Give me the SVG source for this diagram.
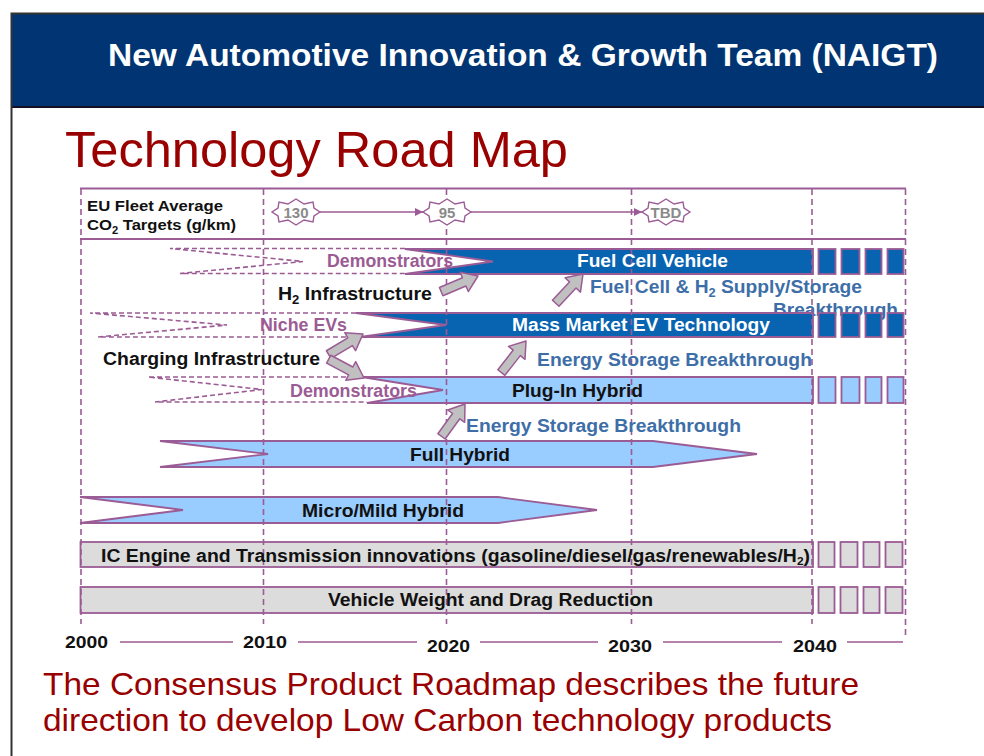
<svg xmlns="http://www.w3.org/2000/svg" width="984" height="756" viewBox="0 0 984 756">
  <style>
    text { font-family: "Liberation Sans", Arial, sans-serif; }
    .hdr { fill: #ffffff; font-size: 32px; font-weight: bold; }
    .title { fill: #990000; font-size: 50px; }
    .foot { fill: #990000; font-size: 32px; }
    .lbl { fill: #111111; font-size: 15px; font-weight: bold; }
    .tgt { fill: #8a8a8a; font-size: 15px; font-weight: bold; text-anchor: middle; }
    .demo { fill: #9b5b94; font-size: 18px; font-weight: bold; }
    .wht { fill: #ffffff; font-size: 18px; font-weight: bold; }
    .blk { fill: #111111; font-size: 18px; font-weight: bold; }
    .brk { fill: #3d6ea8; font-size: 18px; font-weight: bold; }
    .yr { fill: #111111; font-size: 17px; font-weight: bold; }
    .grid { stroke: #9b5b94; stroke-width: 1.6; stroke-dasharray: 6 4; fill: none; }
    .rule { stroke: #9b5b94; stroke-width: 2.2; fill: none; }
    .axis { stroke: #9b5b94; stroke-width: 1.3; fill: none; }
    .tail { stroke: #9b5b94; stroke-width: 1.6; stroke-dasharray: 5 3; fill: none; }
    .dark { fill: #0864b1; stroke: #9b5b94; stroke-width: 1.8; }
    .light { fill: #99ccff; stroke: #9b5b94; stroke-width: 1.8; }
    .grey { fill: #dcdcdc; stroke: #9b5b94; stroke-width: 1.8; }
    .seal { fill: #ffffff; stroke: #9b5b94; stroke-width: 1.4; }
    .link { stroke: #9b5b94; stroke-width: 1.4; fill: none; marker-end: url(#tip); }
    .push { fill: #c0c0c0; stroke: #9b5b94; stroke-width: 1.5; stroke-linejoin: round; }
  </style>
  <defs>
    <marker id="tip" viewBox="0 0 10 10" refX="10" refY="5" markerWidth="8" markerHeight="8" markerUnits="userSpaceOnUse" orient="auto">
      <path d="M0,0 L10,5 L0,10 Z" fill="#9b5b94"/>
    </marker>
    <!-- eight-pointed seal used for the CO2 target values -->
    <path id="sealShape" d="M24,0 L18,-4 L17,-10 L8,-8 L0,-13 L-8,-8 L-17,-10 L-18,-4 L-24,0 L-18,4 L-17,10 L-8,8 L0,13 L8,8 L17,10 L18,4 Z"/>
    <!-- block arrow, tip at origin pointing along +x -->
    <path id="blockArrow" d="M0,0 L-15,-10.5 L-15,-4.5 L-40,-4.5 L-40,4.5 L-15,4.5 L-15,10.5 Z"/>
  </defs>

  <!-- page frame and header band -->
  <rect x="0" y="0" width="984" height="756" fill="#ffffff"/>
  <rect x="12" y="14" width="972" height="93" fill="#003472"/>
  <line x1="12" y1="107" x2="984" y2="107" stroke="#111122" stroke-width="2"/>
  <path d="M11.5,756 V13.5 H984" fill="none" stroke="#333333" stroke-width="2"/>
  <text class="hdr" x="108" y="66" textLength="830" lengthAdjust="spacingAndGlyphs">New Automotive Innovation &amp; Growth Team (NAIGT)</text>
  <text class="title" x="65" y="167" textLength="503" lengthAdjust="spacingAndGlyphs">Technology Road Map</text>

  <!-- CO2 target row rules -->
  <g id="frame">
    <line class="rule" x1="80" y1="188.5" x2="906" y2="188.5"/>
    <line class="rule" x1="80" y1="239" x2="906" y2="239"/>
  </g>

  <g id="co2-label">
    <text class="lbl" x="87" y="211" textLength="136" lengthAdjust="spacingAndGlyphs">EU Fleet Average</text>
    <text class="lbl" x="87" y="230" textLength="149" lengthAdjust="spacingAndGlyphs">CO<tspan font-size="10" dy="4">2</tspan><tspan dy="-4"> Targets (g/km)</tspan></text>
  </g>

  <!-- dashed tails leading into the bars -->
  <g id="tails">
    <path class="tail" d="M405,248.5 H170 L303,261.5 L180,273.5 H405"/>
    <path class="tail" d="M356,313 H90 L227,325 L98,337 H360"/>
    <path class="tail" d="M362,377 H148 L262,389.5 L155,402 H367"/>
  </g>

  <!-- second line of the fuel cell breakthrough note, partly under the EV bar -->
  <text class="brk" x="773" y="316" textLength="125" lengthAdjust="spacingAndGlyphs">Breakthrough</text>

  <g id="fuel-cell-vehicle">
    <path class="dark" d="M405,249 H813 V274 H405 L493,261.5 Z"/>
    <rect class="dark" x="818.5" y="249" width="17" height="25"/>
    <rect class="dark" x="841.5" y="249" width="18" height="25"/>
    <rect class="dark" x="865.5" y="249" width="16" height="25"/>
    <rect class="dark" x="887.5" y="249" width="16" height="25"/>
  </g>

  <g id="mass-market-ev">
    <path class="dark" d="M356,313 H813 V337 H360 L446,325 Z"/>
    <rect class="dark" x="818.5" y="313" width="17" height="24"/>
    <rect class="dark" x="841.5" y="313" width="18" height="24"/>
    <rect class="dark" x="865.5" y="313" width="16" height="24"/>
    <rect class="dark" x="887.5" y="313" width="16" height="24"/>
  </g>

  <g id="plug-in-hybrid">
    <path class="light" d="M362,377 H813 V403 H367 L443,390 Z"/>
    <rect class="light" x="818.5" y="377" width="17" height="26"/>
    <rect class="light" x="841.5" y="377" width="18" height="26"/>
    <rect class="light" x="865.5" y="377" width="16" height="26"/>
    <rect class="light" x="887.5" y="377" width="16" height="26"/>
  </g>

  <g id="full-hybrid">
    <path class="light" d="M160,441 H653 L757,454 L653,467 H160 L268,454 Z"/>
  </g>

  <g id="micro-mild-hybrid">
    <path class="light" d="M80,497 H498 L597,510 L498,523 H80 L183,510 Z"/>
  </g>

  <g id="ic-engine">
    <rect class="grey" x="80.5" y="542" width="732.5" height="25"/>
    <rect class="grey" x="818.5" y="542" width="16" height="25"/>
    <rect class="grey" x="840.5" y="542" width="17" height="25"/>
    <rect class="grey" x="863.5" y="542" width="16" height="25"/>
    <rect class="grey" x="885.5" y="542" width="17" height="25"/>
  </g>

  <g id="weight-drag">
    <rect class="grey" x="80.5" y="587" width="732.5" height="26"/>
    <rect class="grey" x="818.5" y="587" width="16" height="26"/>
    <rect class="grey" x="840.5" y="587" width="17" height="26"/>
    <rect class="grey" x="863.5" y="587" width="16" height="26"/>
    <rect class="grey" x="885.5" y="587" width="17" height="26"/>
  </g>

  <!-- decade grid -->
  <g id="grid">
    <line class="grid" x1="81" y1="189" x2="81" y2="624"/>
    <line class="grid" x1="263.5" y1="189" x2="263.5" y2="624"/>
    <line class="grid" x1="446.5" y1="189" x2="446.5" y2="624"/>
    <line class="grid" x1="631.5" y1="189" x2="631.5" y2="624"/>
    <line class="grid" x1="812" y1="189" x2="812" y2="624"/>
    <line class="grid" x1="905.5" y1="189" x2="905.5" y2="636"/>
  </g>

  <!-- CO2 target values -->
  <g id="target-130">
    <use href="#sealShape" class="seal" transform="translate(296,212)"/>
    <text class="tgt" x="296" y="217.5">130</text>
  </g>
  <g id="target-95">
    <use href="#sealShape" class="seal" transform="translate(447,212)"/>
    <text class="tgt" x="447" y="217.5">95</text>
  </g>
  <g id="target-tbd">
    <use href="#sealShape" class="seal" transform="translate(666,212)"/>
    <text class="tgt" x="666" y="217.5">TBD</text>
  </g>

  <!-- connectors -->
  <g id="connectors">
    <line class="link" x1="320" y1="212" x2="423" y2="212"/>
    <line class="link" x1="471" y1="212" x2="642" y2="212"/>
    <use href="#blockArrow" class="push" transform="translate(478,276) rotate(-23)"/>
    <use href="#blockArrow" class="push" transform="translate(583,274) rotate(-47)"/>
    <use href="#blockArrow" class="push" transform="translate(363,334) rotate(-31)"/>
    <use href="#blockArrow" class="push" transform="translate(364,378) rotate(28)"/>
    <use href="#blockArrow" class="push" transform="translate(526,341) rotate(-52)"/>
    <use href="#blockArrow" class="push" transform="translate(465,404) rotate(-54)"/>
  </g>

  <!-- labels -->
  <g id="labels">
    <text class="demo" x="327" y="267" textLength="126" lengthAdjust="spacingAndGlyphs">Demonstrators</text>
    <text class="wht" x="577" y="267" textLength="151" lengthAdjust="spacingAndGlyphs">Fuel Cell Vehicle</text>
    <text class="blk" x="278" y="300" textLength="154" lengthAdjust="spacingAndGlyphs">H<tspan font-size="12" dy="4">2</tspan><tspan dy="-4"> Infrastructure</tspan></text>
    <text class="brk" x="590" y="293" textLength="272" lengthAdjust="spacingAndGlyphs">Fuel Cell &amp; H<tspan font-size="12" dy="4">2</tspan><tspan dy="-4"> Supply/Storage</tspan></text>
    <text class="demo" x="260" y="331" textLength="87" lengthAdjust="spacingAndGlyphs">Niche EVs</text>
    <text class="wht" x="512" y="331" textLength="258" lengthAdjust="spacingAndGlyphs">Mass Market EV Technology</text>
    <text class="blk" x="103" y="365" textLength="217" lengthAdjust="spacingAndGlyphs">Charging Infrastructure</text>
    <text class="brk" x="537" y="366" textLength="275" lengthAdjust="spacingAndGlyphs">Energy Storage Breakthrough</text>
    <text class="demo" x="290" y="397" textLength="127" lengthAdjust="spacingAndGlyphs">Demonstrators</text>
    <text class="blk" x="512" y="397" textLength="131" lengthAdjust="spacingAndGlyphs">Plug-In Hybrid</text>
    <text class="brk" x="466" y="432" textLength="275" lengthAdjust="spacingAndGlyphs">Energy Storage Breakthrough</text>
    <text class="blk" x="410" y="461" textLength="100" lengthAdjust="spacingAndGlyphs">Full Hybrid</text>
    <text class="blk" x="302" y="517" textLength="162" lengthAdjust="spacingAndGlyphs">Micro/Mild Hybrid</text>
    <text class="blk" x="101" y="562" font-size="17" textLength="709" lengthAdjust="spacingAndGlyphs">IC Engine and Transmission innovations (gasoline/diesel/gas/renewables/H<tspan font-size="11" dy="3">2</tspan><tspan dy="-3">)</tspan></text>
    <text class="blk" x="328" y="606" textLength="325" lengthAdjust="spacingAndGlyphs">Vehicle Weight and Drag Reduction</text>
  </g>

  <!-- time axis -->
  <g id="axis">
    <line class="axis" x1="120" y1="642" x2="233" y2="642"/>
    <line class="axis" x1="298" y1="642" x2="417" y2="642"/>
    <line class="axis" x1="480" y1="642" x2="598" y2="642"/>
    <line class="axis" x1="663" y1="642" x2="782" y2="642"/>
    <line class="axis" x1="847" y1="642" x2="903" y2="642"/>
    <text class="yr" x="65" y="648" textLength="43" lengthAdjust="spacingAndGlyphs">2000</text>
    <text class="yr" x="243" y="648" textLength="44" lengthAdjust="spacingAndGlyphs">2010</text>
    <text class="yr" x="427" y="652" textLength="43" lengthAdjust="spacingAndGlyphs">2020</text>
    <text class="yr" x="608" y="652" textLength="44" lengthAdjust="spacingAndGlyphs">2030</text>
    <text class="yr" x="793" y="652" textLength="44" lengthAdjust="spacingAndGlyphs">2040</text>
  </g>

  <text class="foot" x="43" y="695" textLength="816" lengthAdjust="spacingAndGlyphs">The Consensus Product Roadmap describes the future</text>
  <text class="foot" x="43" y="731" textLength="789" lengthAdjust="spacingAndGlyphs">direction to develop Low Carbon technology products</text>
</svg>
